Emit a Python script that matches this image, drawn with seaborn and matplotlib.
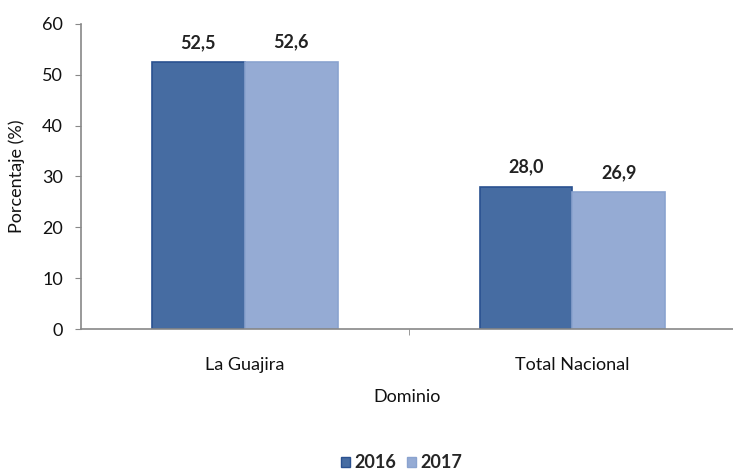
import pandas as pd
import numpy as np
import matplotlib.pyplot as plt
import seaborn as sns
from matplotlib.patches import Patch

# Datos del gráfico
dominios = ['La Guajira', 'Total Nacional']
anios = ['2016', '2017']
valores_2016 = [52.5, 28.0]
valores_2017 = [52.6, 26.9]
colores = ['#466CA2', '#95ABD4']
bordes = ['#2A5190', '#8AA3CF']

df = pd.DataFrame({
    'Dominio': dominios * 2,
    'Año': [anios[0]] * 2 + [anios[1]] * 2,
    'Valor': valores_2016 + valores_2017,
})

sns.set_style('white')
plt.rcParams['font.family'] = ['Lato', 'DejaVu Sans']

fig = plt.figure(figsize=(7.33, 4.73), dpi=100)
ax = fig.add_axes([0.1105, 0.3044, 0.8895, 0.645])

sns.barplot(data=df, x='Dominio', y='Valor', hue='Año', palette=colores,
            width=0.567, gap=0, saturation=1, ax=ax, legend=False)

# Bordes de las barras y etiquetas de valor
for cont, borde in zip(ax.containers, bordes):
    for barra in cont:
        barra.set_edgecolor(borde)
        barra.set_linewidth(1.2)
    ax.bar_label(cont, labels=[f'{v:.1f}'.replace('.', ',') for v in cont.datavalues],
                 padding=8, fontsize=13, fontweight='bold', color='#222222')

ax.set_ylim(0, 60)
ax.set_yticks(range(0, 61, 10))
ax.set_xlim(-0.5, 1.49)
ax.tick_params(axis='y', labelsize=13, length=4, color='#888888', left=True, pad=9,
               labelcolor='#111111')
ax.tick_params(axis='x', labelsize=13, length=0, pad=20, labelcolor='#111111')
ax.set_xticks([0.5], minor=True)
ax.tick_params(axis='x', which='minor', length=4, color='#888888', bottom=True)

for s in ['top', 'right']:
    ax.spines[s].set_visible(False)
for s in ['left', 'bottom']:
    ax.spines[s].set_color('#888888')
    ax.spines[s].set_linewidth(1.2)

ax.set_ylabel('Porcentaje (%)', fontsize=13, labelpad=12, color='#111111')
ax.set_xlabel('Dominio', fontsize=13, labelpad=12, color='#111111')

# Leyenda abajo
handles = [Patch(facecolor=c, edgecolor=b) for c, b in zip(colores, bordes)]
fig.legend(handles, anios, loc='center', bbox_to_anchor=(0.548, 0.022), ncol=2,
           frameon=False, handlelength=0.5, handleheight=0.5,
           handletextpad=0.25, columnspacing=0.6, prop={'weight': 'bold', 'size': 13})

fig.savefig('out.png', dpi=100)
